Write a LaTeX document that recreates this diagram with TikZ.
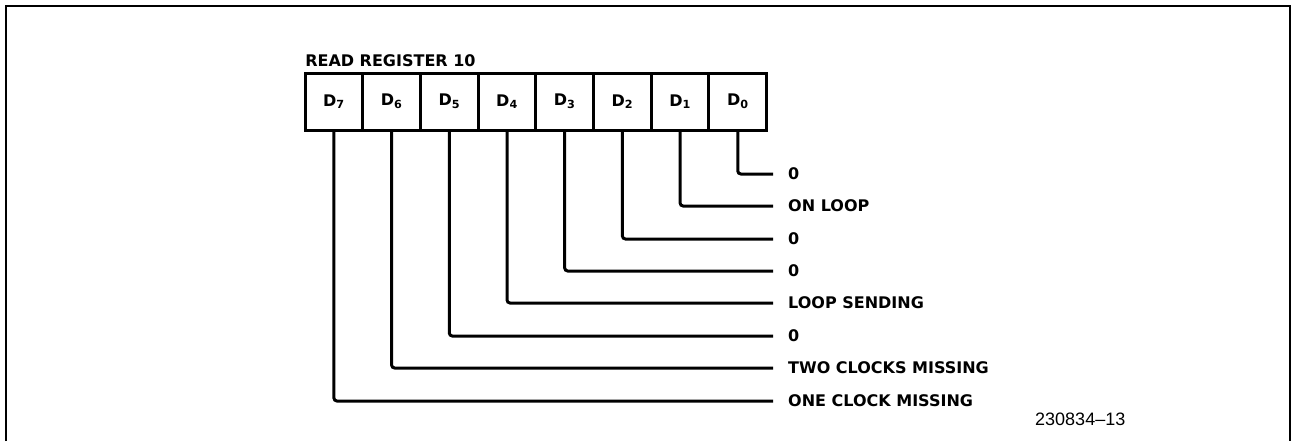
\documentclass[tikz,border=0pt]{standalone}
\usepackage{fontspec}
\setmainfont{DejaVu Sans}
\newfontfamily\numfont{Liberation Sans}
\usetikzlibrary{positioning}

\newcommand{\bitfont}{\fontsize{16}{19}\bfseries\selectfont}
\tikzset{
    bitbox/.style={draw, line width=3pt, minimum width=57.7pt, minimum height=57pt,
        outer sep=0pt, inner sep=0pt, font=\bitfont},
    bitlabel/.style={anchor=west, inner sep=0pt, text height=11.7pt, text depth=0pt, font=\bitfont},
    bitline/.style={line width=3pt, rounded corners=3pt, shorten >=15pt},
}

\begin{document}
\begin{tikzpicture}[x=1pt,y=-1pt]
                \useasboundingbox (0,0) rectangle (1292,444);
                % frame
                \draw[line width=2pt] (6,441) -- (6,6) -- (1290,6) -- (1290,441);

                % register cells
                \node[bitbox] (d7) at (333.9,101.5) {D\textsubscript{7}};
                \node[bitbox, right=0pt of d7] (d6) {D\textsubscript{6}};
                \node[bitbox, right=0pt of d6] (d5) {D\textsubscript{5}};
                \node[bitbox, right=0pt of d5] (d4) {D\textsubscript{4}};
                \node[bitbox, right=0pt of d4] (d3) {D\textsubscript{3}};
                \node[bitbox, right=0pt of d3] (d2) {D\textsubscript{2}};
                \node[bitbox, right=0pt of d2] (d1) {D\textsubscript{1}};
                \node[bitbox, right=0pt of d1] (d0) {D\textsubscript{0}};
                \node[anchor=south west, inner sep=0pt, font=\bitfont] (title)
                    at ([yshift=6pt]d7.north west) {READ REGISTER 10};

                % bit meanings
                \node[bitlabel] (b0) at (788,174) {0};
                \node[bitlabel] (b1) at (788,206) {ON LOOP};
                \node[bitlabel] (b2) at (788,239) {0};
                \node[bitlabel] (b3) at (788,271) {0};
                \node[bitlabel] (b4) at (788,303) {LOOP SENDING};
                \node[bitlabel] (b5) at (788,336) {0};
                \node[bitlabel] (b6) at (788,368) {TWO CLOCKS MISSING};
                \node[bitlabel] (b7) at (788,401) {ONE CLOCK MISSING};

                \draw[bitline] (d0.south) |- (b0.west);
                \draw[bitline] (d1.south) |- (b1.west);
                \draw[bitline] (d2.south) |- (b2.west);
                \draw[bitline] (d3.south) |- (b3.west);
                \draw[bitline] (d4.south) |- (b4.west);
                \draw[bitline] (d5.south) |- (b5.west);
                \draw[bitline] (d6.south) |- (b6.west);
                \draw[bitline] (d7.south) |- (b7.west);

                \node[anchor=base west, inner sep=0pt, font={\numfont\fontsize{18}{21}\selectfont}] (fig)
                    at (1035,425) {230834\textendash 13};
\end{tikzpicture}
\end{document}
